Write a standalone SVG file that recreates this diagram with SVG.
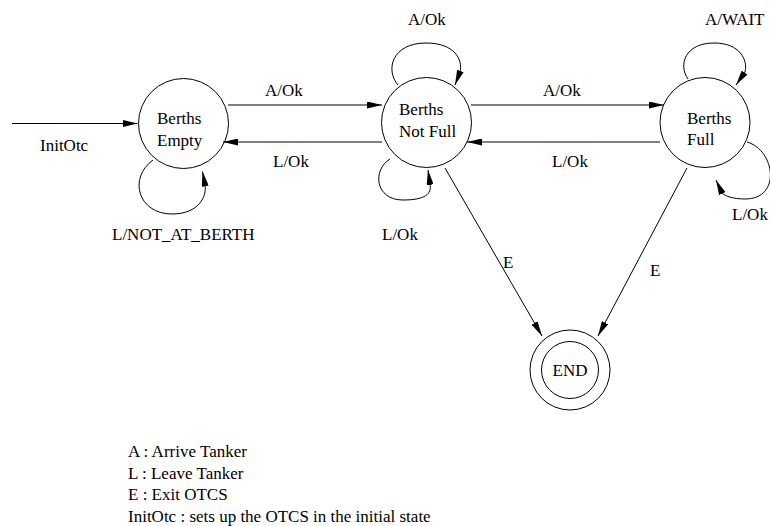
<svg xmlns="http://www.w3.org/2000/svg" width="770" height="526" viewBox="0 0 770 526">
<style>
  .st { fill: none; stroke: #000; stroke-width: 1; }
  .ed { fill: none; stroke: #000; stroke-width: 1; marker-end: url(#ah); }
  text { font-family: "Liberation Serif", "Times New Roman", serif; font-size: 17px; fill: #000; }
</style>
<defs>
  <marker id="ah" viewBox="0 0 15 7" refX="15" refY="3.5" markerWidth="15" markerHeight="7" markerUnits="userSpaceOnUse" orient="auto">
    <path d="M0,0 L15,3.5 L0,7 Z" fill="#000"/>
  </marker>
</defs>
<rect x="0" y="0" width="770" height="526" fill="#fff"/>

<g id="node-empty">
  <circle class="st" cx="183.5" cy="123.5" r="45"/>
  <text x="157" y="124">Berths</text>
  <text x="157" y="145.5">Empty</text>
</g>
<g id="node-notfull">
  <circle class="st" cx="426.5" cy="122.5" r="45"/>
  <text x="399" y="114.5">Berths</text>
  <text x="399" y="136.5">Not Full</text>
</g>
<g id="node-full">
  <circle class="st" cx="705" cy="122.5" r="45"/>
  <text x="687" y="123.5">Berths</text>
  <text x="687" y="145">Full</text>
</g>
<g id="node-end">
  <circle class="st" cx="570" cy="370" r="40"/>
  <circle class="st" cx="570" cy="370" r="28.5"/>
  <text x="570" y="376" text-anchor="middle">END</text>
</g>

<g id="connectors">
  <line class="ed" x1="12" y1="123.5" x2="137.5" y2="123.5"/>
  <line class="ed" x1="228" y1="105" x2="382" y2="105"/>
  <line class="ed" x1="382" y1="142" x2="223" y2="142"/>
  <line class="ed" x1="471" y1="105" x2="664" y2="105"/>
  <line class="ed" x1="660" y1="142" x2="467" y2="142"/>
  <path class="ed" d="M153,160 C128,178 138,214 172,214 C199,214 207,196 205,185 L202.5,171.5"/>
  <path class="ed" d="M398,85 C385,70 392,43 426,43 C455,43 463,60 460,72 L455,85"/>
  <path class="ed" d="M390,159 C372,170 375,200 403,200 C425,200 432,194 430,184 L428,170"/>
  <path class="ed" d="M688,79 C678,65 685,43 714,43 C740,43 748,60 745,72 L736,85"/>
  <path class="ed" d="M747,142 C775,150 782,199 745,199 C733,199 725,196 722,193 L716,180"/>
  <line class="ed" x1="445" y1="168" x2="542" y2="336"/>
  <line class="ed" x1="687" y1="168" x2="598" y2="336"/>
</g>

<g id="labels">
  <text x="40" y="150.5">InitOtc</text>
  <text x="265" y="95.5">A/Ok</text>
  <text x="273" y="166.5">L/Ok</text>
  <text x="543" y="95.5">A/Ok</text>
  <text x="552" y="166.5">L/Ok</text>
  <text x="112" y="240">L/NOT_AT_BERTH</text>
  <text x="408" y="25">A/Ok</text>
  <text x="382" y="240">L/Ok</text>
  <text x="705" y="25">A/WAIT</text>
  <text x="732" y="220">L/Ok</text>
  <text x="503" y="268">E</text>
  <text x="650" y="276">E</text>
</g>

<g id="legend">
  <text x="128" y="457">A : Arrive Tanker</text>
  <text x="128" y="478.5">L : Leave Tanker</text>
  <text x="128" y="500">E : Exit OTCS</text>
  <text x="128" y="521.5">InitOtc : sets up the OTCS in the initial state</text>
</g>
</svg>
